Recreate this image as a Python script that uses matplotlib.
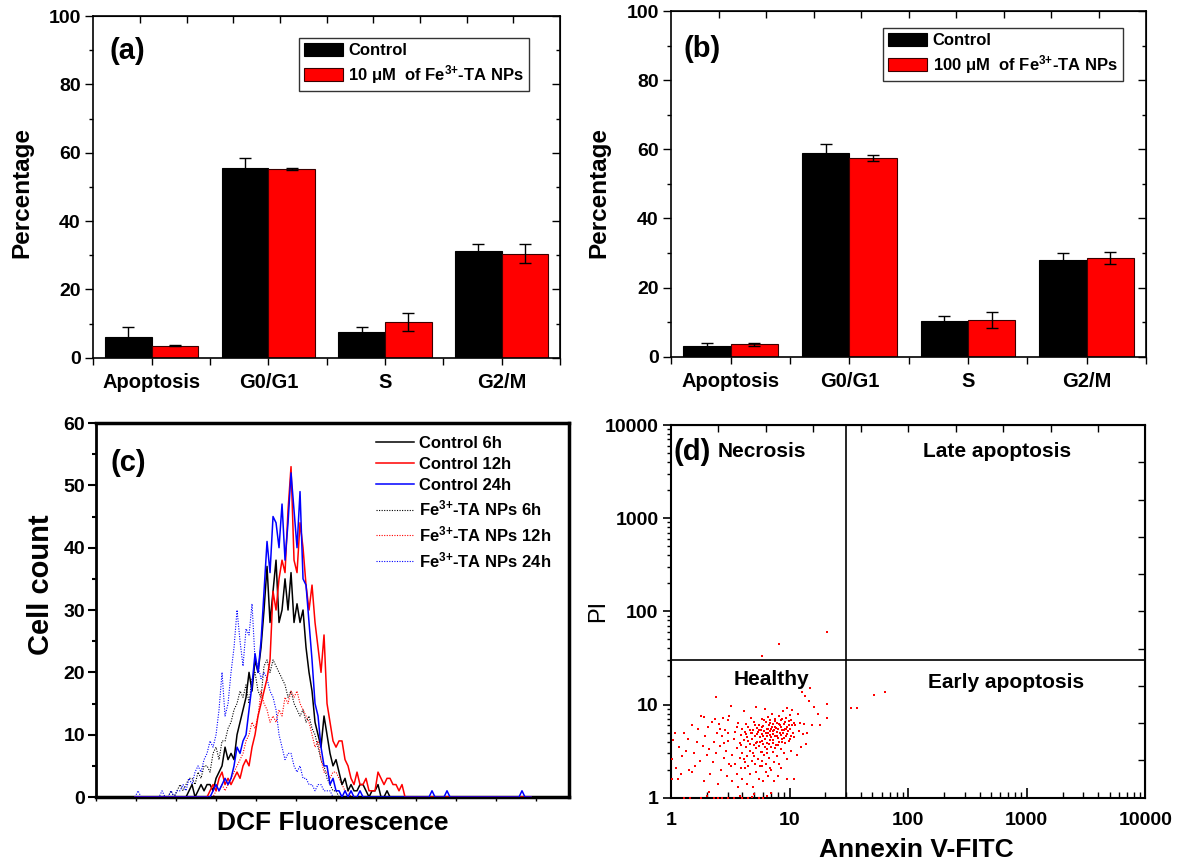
import numpy as np
import matplotlib
matplotlib.use('Agg')
import matplotlib.pyplot as plt
from matplotlib.lines import Line2D
from matplotlib.ticker import FixedLocator, MultipleLocator, LogLocator, NullFormatter

plt.rcParams['font.family'] = ['Liberation Sans', 'DejaVu Sans']
plt.rcParams['font.weight'] = 'bold'
plt.rcParams['mathtext.fontset'] = 'custom'
plt.rcParams['mathtext.rm'] = 'Liberation Sans:bold'
plt.rcParams['mathtext.it'] = 'Liberation Sans:italic:bold'
plt.rcParams['mathtext.bf'] = 'Liberation Sans:bold'

# ---- cell cycle data (panels a, b)
phases = ['Apoptosis', 'G0/G1', 'S', 'G2/M']
ctrl_a = [6.1, 55.6, 7.4, 31.3]
ctrl_a_err = [2.8, 2.9, 1.7, 1.9]
np10 = [3.5, 55.2, 10.5, 30.5]
np10_err = [0.1, 0.2, 2.6, 2.8]
ctrl_b = [3.1, 59.0, 10.4, 27.9]
ctrl_b_err = [0.8, 2.4, 1.3, 2.0]
np100 = [3.6, 57.5, 10.5, 28.5]
np100_err = [0.5, 0.8, 2.3, 1.7]

# ---- DCF histograms (panel c), counts per channel, listed from a start channel
ctrl6_start = 30
ctrl6 = [0, 1, 2, 0, 1, 2, 1, 2, 2, 1, 3, 4, 5, 8, 6, 7, 6, 10, 12, 14,
         16, 20, 17, 22, 20, 24, 30, 37, 28, 33, 38, 28, 30, 35, 30, 36, 28, 31, 28, 30,
         24, 20, 17, 12, 10, 8, 13, 10, 7, 5, 6, 4, 2, 3, 1, 2, 1, 1, 2, 2,
         1, 0, 1, 1, 2, 0, 0, 1, 0]
ctrl12_start = 36
ctrl12 = [0, 0, 1, 2, 1, 3, 4, 2, 3, 2, 3, 4, 3, 5, 6, 5, 8, 10, 13, 15,
          17, 19, 22, 33, 30, 35, 38, 36, 46, 53, 38, 36, 44, 40, 34, 30, 34, 28, 24, 20,
          26, 15, 12, 9, 8, 9, 9, 6, 5, 3, 2, 4, 2, 2, 3, 1, 1, 1, 4, 3,
          2, 3, 3, 2, 2, 1, 2, 0]
ctrl24_start = 37
ctrl24 = [0, 0, 1, 2, 1, 2, 3, 2, 3, 5, 8, 7, 9, 10, 14, 18, 23, 20, 25, 33,
          41, 36, 45, 44, 40, 47, 38, 44, 52, 46, 40, 49, 35, 34, 28, 22, 15, 13, 8, 5,
          5, 2, 3, 1, 1, 0, 1, 0, 1, 0, 0, 1, 0]
ctrl24_spikes = [112, 117, 142]
np6_start = 24
np6 = [0, 1, 0, 1, 2, 1, 2, 3, 3, 2, 4, 3, 5, 5, 4, 7, 8, 6, 9, 9,
       11, 12, 14, 15, 17, 16, 18, 15, 19, 20, 17, 16, 21, 22, 20, 22, 21, 20, 19, 18,
       16, 17, 15, 14, 13, 14, 12, 13, 11, 10, 8, 6, 5, 3, 2, 1, 1, 0]
np12_start = 39
np12 = [0, 1, 1, 2, 1, 2, 3, 4, 5, 6, 7, 9, 10, 12, 11, 13, 17, 15, 14, 12,
        13, 12, 14, 13, 16, 15, 17, 16, 17, 15, 14, 13, 12, 10, 8, 9, 6, 4, 4, 3,
        4, 4, 3, 2, 1, 1, 0]
np24_start = 13
np24 = [0, 1, 0, 0, 0, 0, 0, 0, 0, 1, 0, 0, 1, 0, 1, 1, 2, 1, 3, 2,
        4, 5, 4, 6, 7, 9, 8, 10, 14, 20, 13, 15, 20, 24, 30, 25, 21, 27, 26, 31,
        22, 21, 19, 20, 19, 17, 16, 14, 10, 8, 6, 7, 7, 5, 4, 5, 3, 3, 2, 2,
        1, 2, 2, 1, 1, 1, 0]

# ---- Annexin V / PI scatter (panel d)
annexin = [1.02, 1.03, 1.04, 1.08, 1.1, 1.15, 1.18, 1.22, 1.25, 1.3,
           1.35, 1.4, 1.42, 1.5, 1.5, 1.55, 1.6, 1.65, 1.7, 1.75,
           1.8, 1.85, 1.9, 1.9, 1.95, 2.0, 2.05, 2.1, 2.15, 2.2,
           2.25, 2.3, 2.35, 2.4, 2.4, 2.45, 2.5, 2.55, 2.6, 2.65,
           2.7, 2.75, 2.8, 2.85, 2.9, 2.95, 3.0, 3.05, 3.1, 3.2,
           1.3, 1.45, 1.8, 2.0, 2.1, 2.3, 2.5, 2.7, 3.0, 3.4,
           3.8, 4.0, 4.5, 4.8, 5.0, 5.5, 6.0, 6.5, 7.0,
           3.3, 3.6, 3.7, 4.0, 4.2, 4.4, 4.6, 4.9, 5.2, 5.5,
           5.8, 6.0, 6.3, 6.6, 7.0, 7.4, 8.0, 8.5, 9.5, 11.0,
           3.3, 3.4, 3.5, 3.5, 3.6, 3.7, 3.8, 3.8, 3.9, 3.9,
           4.0, 4.0, 4.1, 4.1, 4.2, 4.2, 4.3, 4.3, 4.4, 4.4,
           4.5, 4.5, 4.6, 4.6, 4.7, 4.7, 4.8, 4.8, 4.9, 4.9,
           5.0, 5.0, 5.1, 5.1, 5.2, 5.2, 5.3, 5.3, 5.4, 5.4,
           5.5, 5.5, 5.6, 5.6, 5.7, 5.7, 5.8, 5.8, 5.9, 5.9,
           6.0, 6.0, 6.1, 6.1, 6.2, 6.2, 6.3, 6.3, 6.4, 6.4,
           6.5, 6.5, 6.6, 6.6, 6.7, 6.7, 6.8, 6.8, 6.9, 6.9,
           7.0, 7.0, 7.1, 7.1, 7.2, 7.2, 7.3, 7.3, 7.4, 7.4,
           7.5, 7.6, 7.6, 7.7, 7.8, 7.8, 7.9, 8.0, 8.0, 8.1,
           8.2, 8.2, 8.3, 8.4, 8.5, 8.5, 8.6, 8.7, 8.8, 8.8,
           8.9, 9.0, 9.1, 9.2, 9.3, 9.4, 9.5, 9.5, 9.6, 9.7,
           9.8, 9.9, 10.0, 10.1, 10.2, 10.3, 10.4, 10.5, 10.6, 10.8,
           3.6, 3.9, 4.1, 4.3, 4.5, 4.6, 4.8, 5.0, 5.1, 5.2,
           5.3, 5.5, 5.6, 5.8, 5.9, 6.0, 6.1, 6.2, 6.3, 6.5,
           6.6, 6.7, 6.8, 6.9, 7.0, 7.2, 7.3, 7.5, 7.5, 7.7,
           7.9, 8.0, 8.1, 8.3, 8.4, 8.6, 8.7, 8.9, 9.0, 9.2,
           9.4, 9.6, 9.8, 10.0, 10.2, 2.6, 2.8, 3.0, 3.1, 3.2,
           11.0, 11.2, 11.5, 11.8, 12.0, 12.3, 12.5, 12.8, 13.0, 13.2,
           13.5, 13.8, 14.0, 14.5, 15.0, 15.5, 16.0, 17.5, 18.0, 20.5, 20.5,
           5.9, 8.1, 20.8, 33, 37, 52, 64]
pi = [1.6, 2.6, 4.2, 4.9, 2.1, 1.6, 3.5, 1.8, 2.8, 5.0,
      3.2, 4.3, 2.0, 1.9, 6.0, 3.0, 2.2, 4.0, 5.5, 2.5,
      7.6, 3.6, 7.3, 1.5, 4.6, 2.9, 5.8, 3.3, 1.8, 6.5,
      2.4, 4.0, 7.0, 12.0, 3.0, 5.0, 1.4, 6.2, 3.6, 2.0,
      4.6, 7.2, 2.7, 5.3, 3.2, 1.7, 6.8, 4.1, 2.3, 9.6,
      1.0, 1.0, 1.0, 1.05, 1.15, 1.0, 1.0, 1.0, 1.0, 1.0,
      1.05, 1.0, 1.0, 1.02, 1.1, 1.0, 1.0, 1.05, 1.12,
      1.5, 1.8, 1.3, 1.6, 2.1, 1.4, 1.8, 1.3, 1.9, 1.6,
      2.2, 1.5, 1.9, 1.7, 2.0, 1.5, 1.7, 2.1, 1.6, 1.6,
      2.9, 4.3, 2.3, 5.1, 3.4, 6.4, 2.7, 3.9, 4.7, 2.1,
      5.4, 3.0, 4.2, 8.6, 2.4, 5.1, 3.5, 6.2, 2.8, 4.5,
      2.2, 5.8, 3.8, 3.2, 4.9, 7.2, 2.5, 4.3, 5.3, 3.0,
      3.7, 6.5, 2.3, 4.6, 9.5, 3.4, 5.6, 4.0, 2.6, 5.1,
      6.1, 3.6, 2.2, 4.5, 5.3, 3.1, 4.1, 7.0, 4.8, 2.5,
      5.9, 3.8, 2.9, 5.2, 9.0, 4.3, 6.5, 2.3, 4.6, 3.3,
      5.5, 3.9, 7.4, 4.9, 2.7, 6.0, 4.2, 5.2, 2.1, 6.8,
      4.5, 3.5, 5.7, 7.9, 3.1, 4.8, 6.2, 3.9, 5.3, 2.4,
      4.6, 7.0, 5.8, 3.7, 5.1, 2.8, 6.4, 4.4, 5.4, 7.6,
      4.0, 2.3, 6.0, 4.7, 6.9, 3.3, 5.3, 4.3, 8.5, 5.0,
      3.0, 6.2, 5.5, 3.9, 7.2, 4.6, 9.1, 5.8, 2.6, 5.2,
      6.6, 4.1, 5.4, 7.8, 4.6, 3.2, 6.0, 8.7, 4.9, 6.3,
      5.7, 3.7, 2.6, 4.8, 4.1, 5.3, 4.9, 2.8, 6.0, 3.9,
      4.8, 5.3, 4.0, 3.1, 5.7, 4.6, 6.9, 3.5, 5.0, 3.0,
      5.5, 3.8, 6.3, 4.7, 5.4, 4.2, 5.2, 6.6, 3.4, 5.6,
      4.6, 3.7, 6.2, 4.9, 5.7, 4.0, 7.0, 5.3, 4.4, 6.5,
      5.5, 4.8, 6.0, 4.3, 6.9, 5.5, 3.9, 5.0, 7.6, 2.2,
      4.5, 6.0, 2.9, 8.0, 5.2, 6.3, 3.5, 13.5, 4.8, 6.2,
      12.5, 3.8, 5.0, 11.0, 15.0, 6.0, 9.5, 8.0, 6.0, 10.1, 7.2,
      33, 45, 60, 9.1, 9.2, 12.8, 13.7]

fig = plt.figure(figsize=(11.8, 8.67), dpi=100)
ax_a = fig.add_axes([0.0791, 0.5874, 0.3955, 0.3941])
ax_b = fig.add_axes([0.5689, 0.5886, 0.4023, 0.3987])
ax_c = fig.add_axes([0.0814, 0.0807, 0.4008, 0.4314])
ax_d = fig.add_axes([0.5686, 0.0799, 0.4021, 0.4299])


def bar_panel(ax, ctrl, ctrl_err, trt, trt_err, trt_label, tag, tag_xy, leg_anchor, ylab_xy):
    x = np.arange(1, len(phases) + 1)
    ax.bar(x - 0.2, ctrl, 0.4, color='black', edgecolor='black', lw=0.8, label='Control')
    ax.bar(x + 0.2, trt, 0.4, color='#ff0000', edgecolor='#3a0000', lw=0.8, label=trt_label)
    ax.errorbar(x - 0.2, ctrl, yerr=ctrl_err, fmt='none', ecolor='black', elinewidth=1, capsize=4.5, capthick=1)
    ax.errorbar(x + 0.2, trt, yerr=trt_err, fmt='none', ecolor='black', elinewidth=1, capsize=4.5, capthick=1)
    ax.set_xlim(0.5, 4.5)
    ax.set_ylim(0, 100)
    ax.set_xticks(x)
    ax.set_xticklabels(phases, fontsize=14.5, fontweight='bold')
    ax.xaxis.set_minor_locator(FixedLocator(np.arange(0.5, 4.6, 1.0)))
    ax.yaxis.set_major_locator(MultipleLocator(20))
    ax.yaxis.set_minor_locator(MultipleLocator(10))
    ax.tick_params(axis='x', which='both', direction='out', length=5, width=1, pad=6)
    ax.tick_params(axis='y', which='major', direction='out', length=6, width=1, labelsize=14, pad=3)
    ax.tick_params(axis='y', which='minor', direction='out', length=3, width=1)
    for lab in ax.get_yticklabels():
        lab.set_fontweight('bold')
    for s in ax.spines.values():
        s.set_linewidth(1.2)
    top = ax.secondary_xaxis('top')
    top.set_xticks(np.arange(0.9, 4.2, 0.4))
    top.tick_params(direction='in', length=5, width=1, labeltop=False)
    right = ax.secondary_yaxis('right')
    right.yaxis.set_major_locator(MultipleLocator(20))
    right.yaxis.set_minor_locator(MultipleLocator(10))
    right.tick_params(which='major', direction='in', length=6, width=1, labelright=False)
    right.tick_params(which='minor', direction='in', length=3, width=1)
    ax.set_ylabel('Percentage', fontsize=17.5, fontweight='bold', va='center')
    ax.yaxis.set_label_coords(*ylab_xy)
    ax.text(tag_xy[0], tag_xy[1], tag, transform=ax.transAxes, fontsize=21, fontweight='bold',
            ha='center', va='center')
    leg = ax.legend(loc='upper right', bbox_to_anchor=leg_anchor, fontsize=12, frameon=True,
                    fancybox=False, edgecolor='black', handlelength=2.3, handleheight=0.8,
                    handletextpad=0.35, borderpad=0.3, labelspacing=0.3, borderaxespad=0)
    leg.get_frame().set_linewidth(1.0)
    for t in leg.get_texts():
        t.set_fontweight('bold')


bar_panel(ax_a, ctrl_a, ctrl_a_err, np10, np10_err, r'10 μM  of Fe$^{\text{3+}}$-TA NPs', '(a)',
          (0.074, 0.898), (0.934, 0.936), (-0.153, 0.485))
bar_panel(ax_b, ctrl_b, ctrl_b_err, np100, np100_err, r'100 μM  of Fe$^{\text{3+}}$-TA NPs', '(b)',
          (0.064, 0.89), (0.951, 0.951), (-0.152, 0.474))

# ---- panel c
channels = np.arange(13, 146)


def full_counts(start, vals, spikes=()):
    y = np.zeros(len(channels))
    y[start - 13:start - 13 + len(vals)] = vals
    for c in spikes:
        y[c - 13] = 1
    return y


dots = (0, (1, 1.3))
ax_c.plot(channels, full_counts(np6_start, np6), color='black', ls=dots, lw=0.8, zorder=2)
ax_c.plot(channels, full_counts(np12_start, np12), color='#ff0000', ls=dots, lw=0.8, zorder=2)
ax_c.plot(channels, full_counts(np24_start, np24), color='#0000ff', ls=dots, lw=0.8, zorder=2)
ax_c.plot(channels, full_counts(ctrl6_start, ctrl6), color='black', lw=1.1, zorder=3)
ax_c.plot(channels, full_counts(ctrl12_start, ctrl12), color='#ff0000', lw=1.1, zorder=3)
ax_c.plot(channels, full_counts(ctrl24_start, ctrl24, ctrl24_spikes), color='#0000ff', lw=1.1, zorder=4)

handles = [Line2D([], [], color='black', lw=1.1), Line2D([], [], color='#ff0000', lw=1.1),
           Line2D([], [], color='#0000ff', lw=1.1),
           Line2D([], [], color='black', ls=dots, lw=0.8), Line2D([], [], color='#ff0000', ls=dots, lw=0.8),
           Line2D([], [], color='#0000ff', ls=dots, lw=0.8)]
labels = ['Control 6h', 'Control 12h', 'Control 24h', r'Fe$^{\text{3+}}$-TA NPs 6h',
          r'Fe$^{\text{3+}}$-TA NPs 12h', r'Fe$^{\text{3+}}$-TA NPs 24h']
leg = ax_c.legend(handles, labels, loc='upper left', bbox_to_anchor=(0.592, 0.965), frameon=False,
                  fontsize=12, handlelength=2.3, handletextpad=0.3, labelspacing=0.35,
                  borderpad=0, borderaxespad=0)
for t in leg.get_texts():
    t.set_fontweight('bold')

ax_c.set_xlim(0, 157.67)
ax_c.set_ylim(0, 60)
ax_c.set_xticks(np.arange(0, 157, 13.333))
ax_c.set_xticklabels([])
ax_c.yaxis.set_major_locator(MultipleLocator(10))
ax_c.yaxis.set_minor_locator(MultipleLocator(5))
ax_c.tick_params(axis='x', direction='out', length=3, width=1)
ax_c.tick_params(axis='y', which='major', direction='out', length=6, width=1.5, labelsize=14, pad=2)
ax_c.tick_params(axis='y', which='minor', direction='out', length=3, width=1.5)
for lab in ax_c.get_yticklabels():
    lab.set_fontweight('bold')
for s in ax_c.spines.values():
    s.set_linewidth(2.5)
ax_c.spines['left'].set_linewidth(2.0)
ax_c.set_ylabel('Cell count', fontsize=21, fontweight='bold', va='center')
ax_c.yaxis.set_label_coords(-0.117, 0.567)
ax_c.set_xlabel('DCF Fluorescence', fontsize=19, fontweight='bold', va='center')
ax_c.xaxis.set_label_coords(0.501, -0.07)
ax_c.text(0.068, 0.893, '(c)', transform=ax_c.transAxes, fontsize=21, fontweight='bold',
          ha='center', va='center')

# ---- panel d
ax_d.scatter(annexin, pi, s=2.4, marker='s', color='#ff0000', linewidths=0, zorder=3)
ax_d.set_xscale('log')
ax_d.set_yscale('log')
ax_d.set_xlim(1, 10000)
ax_d.set_ylim(1, 10000)
ax_d.axvline(30, color='black', lw=1.2, zorder=2)
ax_d.axhline(30, color='black', lw=1.2, zorder=2)
ax_d.xaxis.set_minor_locator(LogLocator(base=10, subs=np.arange(2, 10), numticks=10))
ax_d.yaxis.set_minor_locator(LogLocator(base=10, subs=np.arange(2, 10), numticks=10))
ax_d.xaxis.set_minor_formatter(NullFormatter())
ax_d.yaxis.set_minor_formatter(NullFormatter())
ax_d.set_xticks([1, 10, 100, 1000, 10000])
ax_d.set_xticklabels(['1', '10', '100', '1000', '10000'])
ax_d.set_yticks([1, 10, 100, 1000, 10000])
ax_d.set_yticklabels(['1', '10', '100', '1000', '10000'])
ax_d.tick_params(axis='x', which='major', direction='in', length=7, width=1.2, labelsize=14, pad=10)
ax_d.tick_params(axis='x', which='minor', direction='in', length=4, width=1)
ax_d.tick_params(axis='y', which='major', direction='out', length=6, width=1.2, labelsize=14, pad=3)
ax_d.tick_params(axis='y', which='minor', direction='out', length=3, width=1)
for lab in ax_d.get_xticklabels() + ax_d.get_yticklabels():
    lab.set_fontweight('bold')
for s in ax_d.spines.values():
    s.set_linewidth(1.5)
top_d = ax_d.secondary_xaxis('top')
top_d.set_xticks(10 ** np.arange(0.4, 3.7, 0.4))
top_d.xaxis.set_minor_locator(FixedLocator([]))
top_d.tick_params(which='both', direction='in', length=5, width=1, labeltop=False)
right_d = ax_d.secondary_yaxis('right')
right_d.set_yticks(10 ** np.arange(0.4, 3.7, 0.4))
right_d.yaxis.set_minor_locator(FixedLocator([]))
right_d.tick_params(which='both', direction='in', length=5, width=1, labelright=False)
ax_d.set_ylabel('PI', fontsize=17, fontweight='normal', va='center')
ax_d.yaxis.set_label_coords(-0.154, 0.5)
ax_d.set_xlabel('Annexin V-FITC', fontsize=19, fontweight='bold', va='center')
ax_d.xaxis.set_label_coords(0.517, -0.14)
ax_d.text(0.044, 0.928, '(d)', transform=ax_d.transAxes, fontsize=21, fontweight='bold',
          ha='center', va='center')
ax_d.text(0.192, 0.928, 'Necrosis', transform=ax_d.transAxes, fontsize=15, fontweight='bold',
          ha='center', va='center')
ax_d.text(0.687, 0.928, 'Late apoptosis', transform=ax_d.transAxes, fontsize=15, fontweight='bold',
          ha='center', va='center')
ax_d.text(0.211, 0.316, 'Healthy', transform=ax_d.transAxes, fontsize=15, fontweight='bold',
          ha='center', va='center')
ax_d.text(0.706, 0.308, 'Early apoptosis', transform=ax_d.transAxes, fontsize=15, fontweight='bold',
          ha='center', va='center')

fig.savefig('out.png', dpi=100)
